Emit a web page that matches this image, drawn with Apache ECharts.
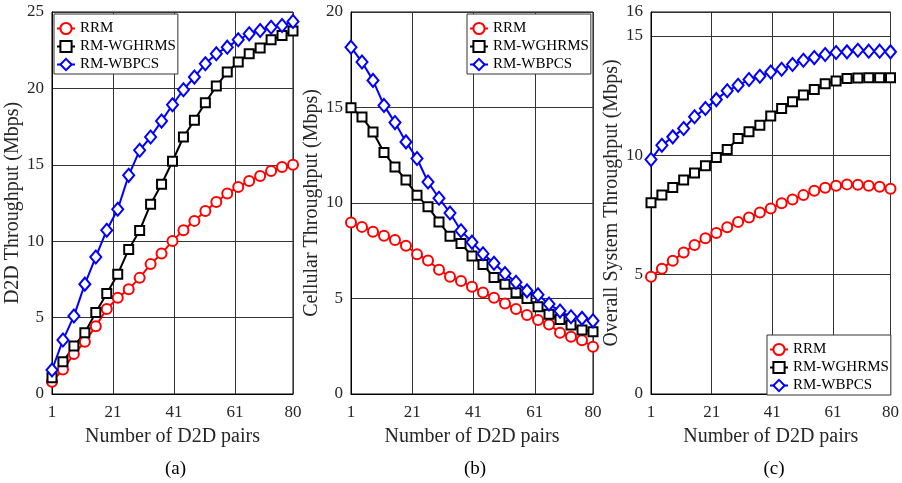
<!DOCTYPE html>
<html>
<head>
<meta charset="utf-8">
<script src="https://cdn.jsdelivr.net/npm/echarts@6/dist/echarts.min.js"></script>
<style>
  html, body { margin: 0; padding: 0; background: #fff; }
  #chart { width: 902px; height: 483px; }
</style>
</head>
<body>
<div id="chart"></div>
<script>
// Number of D2D pairs at which each scheme was evaluated
const pairs = [1, 4.59, 8.18, 11.77, 15.36, 18.95, 22.55, 26.14, 29.73, 33.32, 36.91, 40.5,
               44.09, 47.68, 51.27, 54.86, 58.45, 62.05, 65.64, 69.23, 72.82, 76.41, 80];
const xTicks = [1, 21, 41, 61, 80];
const seriesNames = ['RRM', 'RM-WGHRMS', 'RM-WBPCS'];

// (a) D2D throughput (Mbps)
const d2dRRM    = [0.8, 1.61, 2.61, 3.42, 4.44, 5.56, 6.3, 6.86, 7.6, 8.5, 9.19, 10.02, 10.72, 11.33, 11.98, 12.57, 13.12, 13.55, 13.94, 14.27, 14.6, 14.86, 15.01];
const d2dWGHRMS = [1.07, 2.11, 3.14, 4.01, 5.34, 6.58, 7.84, 9.46, 10.7, 12.42, 13.73, 15.23, 16.82, 17.91, 19.06, 20.15, 21.07, 21.72, 22.27, 22.64, 23.18, 23.46, 23.75];
const d2dWBPCS  = [1.57, 3.53, 5.1, 7.19, 8.97, 10.72, 12.09, 14.31, 15.95, 16.82, 17.86, 18.93, 19.91, 20.74, 21.61, 22.27, 22.7, 23.18, 23.57, 23.79, 24.0, 24.12, 24.38];

// (b) Cellular throughput (Mbps)
const cellRRM    = [8.98, 8.75, 8.5, 8.28, 8.06, 7.76, 7.32, 6.99, 6.5, 6.14, 5.92, 5.61, 5.32, 5.04, 4.74, 4.45, 4.13, 3.87, 3.64, 3.21, 3.0, 2.82, 2.47];
const cellWGHRMS = [14.99, 14.5, 13.72, 12.64, 11.89, 11.2, 10.4, 9.8, 9.01, 8.26, 7.88, 7.22, 6.78, 6.1, 5.75, 5.3, 5.0, 4.57, 4.18, 3.9, 3.61, 3.35, 3.26];
const cellWBPCS  = [18.16, 17.38, 16.42, 15.11, 14.21, 13.2, 12.33, 11.1, 10.25, 9.48, 8.55, 7.95, 7.34, 6.85, 6.31, 5.85, 5.4, 5.2, 4.71, 4.34, 4.04, 3.96, 3.83];

// (c) Overall system throughput (Mbps)
const sysRRM    = [4.91, 5.25, 5.58, 5.93, 6.24, 6.52, 6.74, 6.98, 7.2, 7.39, 7.6, 7.77, 7.99, 8.15, 8.33, 8.51, 8.64, 8.72, 8.78, 8.76, 8.72, 8.68, 8.6];
const sysWGHRMS = [8.01, 8.33, 8.65, 8.96, 9.26, 9.56, 9.91, 10.24, 10.7, 10.98, 11.26, 11.64, 11.96, 12.24, 12.52, 12.75, 13.0, 13.11, 13.21, 13.24, 13.25, 13.25, 13.25];
const sysWBPCS  = [9.82, 10.42, 10.77, 11.12, 11.61, 11.96, 12.33, 12.7, 12.93, 13.17, 13.31, 13.49, 13.6, 13.8, 13.98, 14.09, 14.22, 14.3, 14.33, 14.4, 14.36, 14.36, 14.33];

const panelYNames = ['D2D Throughput (Mbps)', 'Cellular Throughput (Mbps)', 'Overall System Throughput (Mbps)'];
const panelYMax = [25, 20, 16];
const panelCaptions = ['(a)', '(b)', '(c)'];
const panelValues = [
  [d2dRRM, d2dWGHRMS, d2dWBPCS],
  [cellRRM, cellWGHRMS, cellWBPCS],
  [sysRRM, sysWGHRMS, sysWBPCS]
];

const FONT = "'Liberation Serif', 'Times New Roman', serif";

// Plot boxes (pixels)
const boxes = [
  { left: 52, top: 12, width: 241, height: 382 },
  { left: 351, top: 12, width: 242, height: 382 },
  { left: 651, top: 12, width: 240, height: 382 }
];
const legendPos = [
  { left: 54, top: 14 },
  { left: 467, top: 14 },
  { left: 767, top: 335 }
];

const styles = [
  { color: '#ff0000', symbol: 'emptyCircle', size: 10 },
  { color: '#000000', symbol: 'emptyRect', size: 9 },
  { color: '#0000ff', symbol: 'emptyDiamond', size: [11, 13] }
];

const grids = [], xAxes = [], yAxes = [], series = [], legends = [], graphics = [];

boxes.forEach((b, p) => {
  grids.push(Object.assign({ show: true, borderColor: '#000', borderWidth: 1, backgroundColor: '#fff' }, b));

  xAxes.push({
    type: 'value', gridIndex: p, min: 1, max: 80,
    name: 'Number of D2D pairs', nameLocation: 'middle', nameGap: 33,
    nameTextStyle: { fontFamily: FONT, fontSize: 20, color: '#262626' },
    axisLine: { show: true, lineStyle: { color: '#000', width: 1 } },
    axisTick: { show: false, customValues: xTicks },
    axisLabel: { customValues: xTicks, fontFamily: FONT, fontSize: 17, color: '#262626', margin: 10 },
    splitLine: { show: true, lineStyle: { color: '#333', width: 1 } }
  });

  yAxes.push({
    type: 'value', gridIndex: p, min: 0, max: panelYMax[p], interval: 5,
    name: panelYNames[p], nameLocation: 'middle', nameGap: 27,
    nameTextStyle: { fontFamily: FONT, fontSize: 20, color: '#262626' },
    axisLine: { show: true, lineStyle: { color: '#000', width: 1 } },
    axisTick: { show: false },
    axisLabel: { fontFamily: FONT, fontSize: 17, color: '#262626', margin: 8, showMaxLabel: true },
    splitLine: { show: true, lineStyle: { color: '#333', width: 1 } }
  });

  panelValues[p].forEach((vals, s) => {
    const st = styles[s];
    series.push({
      type: 'line', name: seriesNames[s], xAxisIndex: p, yAxisIndex: p,
      data: pairs.map((x, i) => [x, vals[i]]),
      symbol: st.symbol, symbolSize: st.size, showAllSymbol: true, clip: false,
      lineStyle: { color: st.color, width: 2 },
      itemStyle: { color: st.color, borderColor: st.color, borderWidth: 2 },
      emphasis: { disabled: true }
    });
  });

  legends.push({
    data: seriesNames, orient: 'vertical',
    left: legendPos[p].left, top: legendPos[p].top,
    itemWidth: 18, itemHeight: 14, itemGap: 3,
    padding: [7, 2, 2, 2],
    borderColor: '#333', borderWidth: 1, backgroundColor: '#fff',
    textStyle: { fontFamily: FONT, fontSize: 15, color: '#000', lineHeight: 15 },
    selectedMode: false
  });

  graphics.push({
    type: 'text', x: b.left + b.width / 2 + 3, y: 469,
    style: { text: panelCaptions[p], font: '19px ' + FONT, fill: '#000', align: 'center', verticalAlign: 'middle' }
  });
});

const chart = echarts.init(document.getElementById('chart'), null, { renderer: 'canvas' });
chart.setOption({
  animation: false,
  backgroundColor: '#fff',
  textStyle: { fontFamily: FONT },
  grid: grids, xAxis: xAxes, yAxis: yAxes,
  legend: legends, series: series, graphic: graphics
});
</script>
</body>
</html>
